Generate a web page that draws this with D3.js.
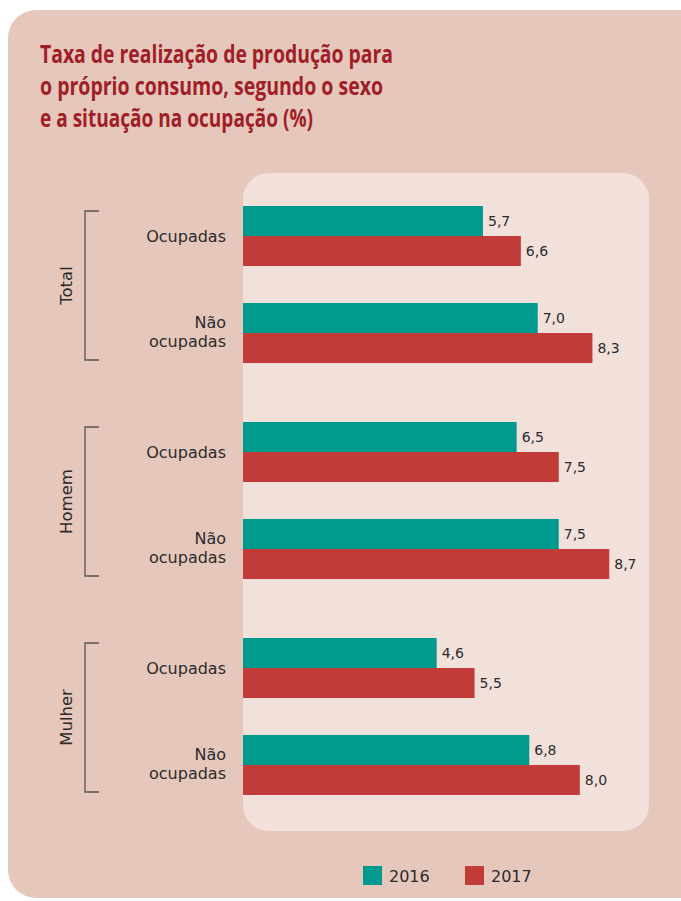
<!DOCTYPE html>
<html>
<head>
<meta charset="utf-8">
<script src="https://cdn.jsdelivr.net/npm/d3@7"></script>
<style>
  body { margin: 0; background: #fff; }
  svg { display: block; }
  text { font-family: "DejaVu Sans", sans-serif; fill: #2b2b2b; }
</style>
</head>
<body>
<div id="chart"></div>
<script>
// Chart data
const groups = ['Total', 'Homem', 'Mulher'];
const situations = ['Ocupadas', 'Não ocupadas'];
const years = ['2016', '2017'];
const values2016 = [5.7, 7.0, 6.5, 7.5, 4.6, 6.8];
const values2017 = [6.6, 8.3, 7.5, 8.7, 5.5, 8.0];
const titleLines = [
  'Taxa de realização de produção para',
  'o próprio consumo, segundo o sexo',
  'e a situação na ocupação (%)'
];

const width = 681;
const height = 901;
const colors = { '2016': '#009a8e', '2017': '#c13b38' };

// Build rows from the arrays
const rows = [];
groups.forEach((g, gi) => {
  situations.forEach((s, si) => {
    const i = gi * 2 + si;
    rows.push({ group: g, situation: s, year: '2016', value: values2016[i] });
    rows.push({ group: g, situation: s, year: '2017', value: values2017[i] });
  });
});

const svg = d3.select('#chart')
  .append('svg')
  .attr('width', width)
  .attr('height', height);

// Panels
svg.append('rect')
  .attr('x', 8).attr('y', 10)
  .attr('width', 700).attr('height', 888)
  .attr('rx', 28)
  .attr('fill', '#e6c7bb');

svg.append('rect')
  .attr('x', 243).attr('y', 173)
  .attr('width', 406).attr('height', 658)
  .attr('rx', 26)
  .attr('fill', '#f2e1da');

// Title
svg.append('g')
  .selectAll('text')
  .data(titleLines)
  .join('text')
  .attr('x', 40)
  .attr('y', (d, i) => 63 + i * 32)
  .attr('textLength', (d, i) => [353, 343, 273][i])
  .attr('lengthAdjust', 'spacingAndGlyphs')
  .style('font-family', '"Open Sans", sans-serif')
  .style('font-weight', 700)
  .style('font-size', '25px')
  .style('fill', '#a01e27')
  .text(d => d);

// Scales
const yGroup = d3.scaleBand().domain(groups).range([206, 795]).paddingInner(0.273);
const ySit = d3.scaleBand().domain(situations).range([0, yGroup.bandwidth()]).paddingInner(0.381);
const yYear = d3.scaleBand().domain(years).range([0, ySit.bandwidth()]);
const xScale = d3.scaleLinear().domain([0, 10]).range([243, 664]);

const yOf = d => yGroup(d.group) + ySit(d.situation) + yYear(d.year);

// Bars
svg.append('g')
  .selectAll('rect')
  .data(rows)
  .join('rect')
  .attr('x', xScale(0))
  .attr('y', d => yOf(d))
  .attr('width', d => xScale(d.value) - xScale(0))
  .attr('height', yYear.bandwidth())
  .attr('fill', d => colors[d.year]);

// Value labels
svg.append('g')
  .selectAll('text')
  .data(rows)
  .join('text')
  .attr('x', d => xScale(d.value) + 5)
  .attr('y', d => yOf(d) + yYear.bandwidth() / 2 + 5)
  .style('font-size', '14px')
  .text(d => d.value.toFixed(1).replace('.', ','));

// Category labels (each line its own text)
const catG = svg.append('g');
groups.forEach(g => {
  situations.forEach(s => {
    const cy = yGroup(g) + ySit(s) + ySit.bandwidth() / 2;
    const lines = s === 'Não ocupadas' ? ['Não', 'ocupadas'] : [s];
    lines.forEach((line, i) => {
      catG.append('text')
        .attr('text-anchor', 'end')
        .attr('x', 226)
        .attr('y', lines.length === 1 ? cy + 6 : cy - 5 + i * 19)
        .style('font-size', '16px')
        .text(line);
    });
  });
});

// Group brackets and labels
const bracket = svg.append('g');
groups.forEach(g => {
  const top = yGroup(g) + 5;
  const bottom = yGroup(g) + yGroup.bandwidth() - 3;
  bracket.append('path')
    .attr('d', `M99,${top}H85V${bottom}H99`)
    .attr('fill', 'none')
    .attr('stroke', '#555')
    .attr('stroke-width', 1.3);
  const cy = (top + bottom) / 2;
  bracket.append('text')
    .attr('transform', `translate(72, ${cy}) rotate(-90)`)
    .attr('text-anchor', 'middle')
    .style('font-size', '16.5px')
    .text(g);
});

// Legend
const legend = svg.append('g')
  .selectAll('g')
  .data(years)
  .join('g')
  .attr('transform', (d, i) => `translate(${363 + i * 102}, 866)`);

legend.append('rect')
  .attr('width', 19)
  .attr('height', 19)
  .attr('fill', d => colors[d]);

legend.append('text')
  .attr('x', 26)
  .attr('y', 16)
  .style('font-size', '16px')
  .text(d => d);
</script>
</body>
</html>
